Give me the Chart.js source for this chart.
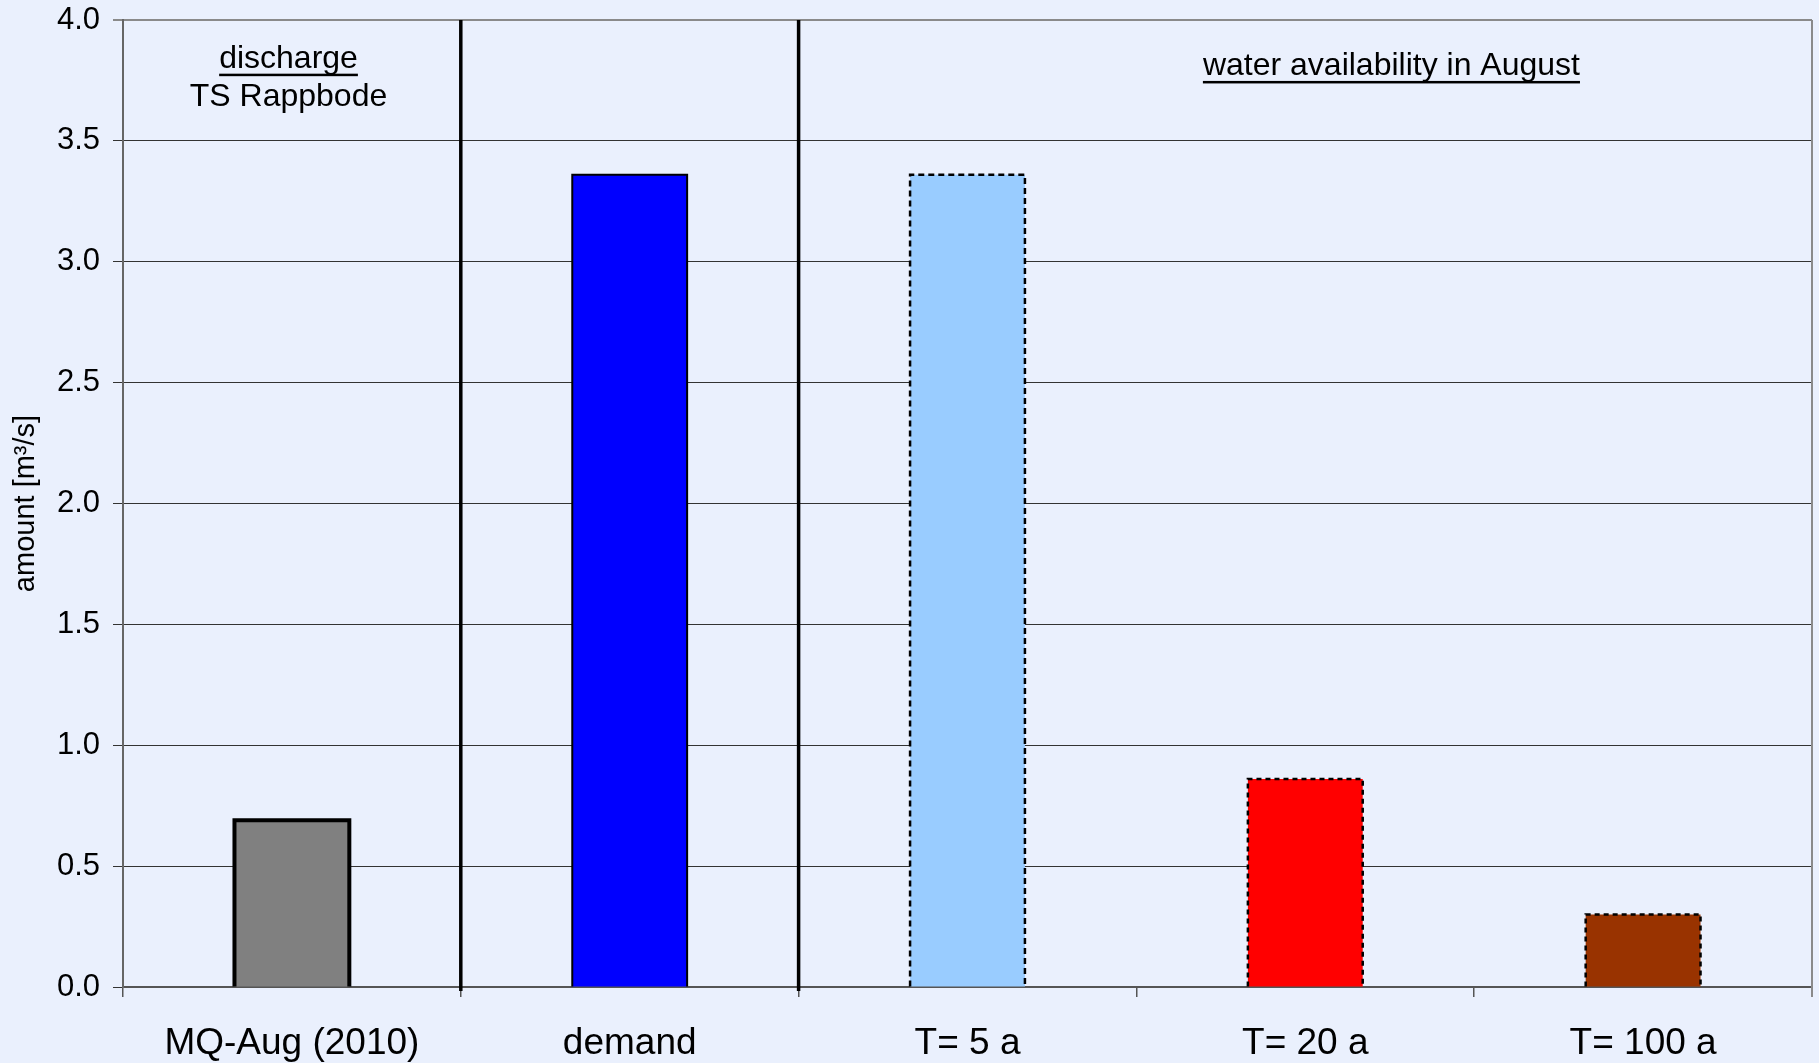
<!DOCTYPE html>
<html>
<head>
<meta charset="utf-8">
<script src="https://cdn.jsdelivr.net/npm/chart.js@4.4.1/dist/chart.umd.min.js"></script>
<style>
  html, body { margin: 0; padding: 0; background: #EAF0FD; }
  #wrap { width: 1819px; height: 1063px; }
</style>
</head>
<body>
<div id="wrap"><canvas id="c" width="1819" height="1063"></canvas></div>
<script>
// ---- data ----
const categories = ["MQ-Aug (2010)", "demand", "T= 5 a", "T= 20 a", "T= 100 a"];
const amounts = [0.69, 3.36, 3.36, 0.86, 0.30];
const yTicks = [0, 0.5, 1.0, 1.5, 2.0, 2.5, 3.0, 3.5, 4.0];
const yAxisTitle = "amount [m\u00B3/s]";
const groupSeparators = [0.5, 1.5]; // category-index boundaries
const annotations = [
  { text: "discharge", x: -0.01, y: 3.84, underline: true },
  { text: "TS Rappbode", x: -0.01, y: 3.68, underline: false },
  { text: "water availability in August", x: 3.255, y: 3.81, underline: true }
];

// ---- styles ----
const barColors = ["#808080", "#0000FF", "#99CCFF", "#FF0000", "#993300"];
const barBorderWidths = [4, 2, 2.5, 2.5, 2.5];
const barDashes = [[], [], [6, 4], [5, 4], [5, 4]];
const FONT = "'Liberation Sans', Arial, sans-serif";

const overlay = {
  id: 'overlay',
  afterDatasetsDraw(chart) {
    const ctx = chart.ctx;
    const area = chart.chartArea;
    const xs = chart.scales.x, ys = chart.scales.y;
    const meta = chart.getDatasetMeta(0);
    meta.data.forEach((bar, i) => {
      const p = bar.getProps(['x', 'y', 'base', 'width'], true);
      const bw = barBorderWidths[i];
      const l = p.x - p.width / 2, r = p.x + p.width / 2;
      ctx.save();
      ctx.strokeStyle = '#000';
      ctx.lineWidth = bw;
      ctx.setLineDash(barDashes[i]);
      ctx.lineJoin = 'miter';
      ctx.beginPath();
      ctx.moveTo(l, p.base);
      ctx.lineTo(l, p.y);
      ctx.lineTo(r, p.y);
      ctx.lineTo(r, p.base);
      ctx.stroke();
      ctx.restore();
    });
    ctx.save();
    ctx.strokeStyle = '#8a8a8a';
    ctx.lineWidth = 2;
    ctx.beginPath();
    ctx.moveTo(area.right, area.top);
    ctx.lineTo(area.right, area.bottom + 10);
    ctx.stroke();
    ctx.strokeStyle = '#000';
    ctx.lineWidth = 3.5;
    groupSeparators.forEach(v => {
      const x = (xs.getPixelForValue(Math.floor(v)) + xs.getPixelForValue(Math.ceil(v))) / 2;
      ctx.beginPath();
      ctx.moveTo(x, area.top);
      ctx.lineTo(x, area.bottom + 4);
      ctx.stroke();
    });
    ctx.fillStyle = '#000';
    ctx.font = "32px " + FONT;
    ctx.textAlign = 'center';
    ctx.textBaseline = 'middle';
    annotations.forEach(a => {
      const x = xs.getPixelForValue(a.x);
      const y = ys.getPixelForValue(a.y);
      ctx.fillText(a.text, x, y);
      if (a.underline) {
        const w = ctx.measureText(a.text).width;
        ctx.fillRect(x - w / 2, y + 15, w, 2.5);
      }
    });
    ctx.restore();
  }
};

new Chart(document.getElementById('c'), {
  type: 'bar',
  data: {
    labels: categories,
    datasets: [{
      data: amounts,
      backgroundColor: barColors,
      borderWidth: 0,
      barPercentage: 0.34,
      categoryPercentage: 1.0
    }]
  },
  options: {
    responsive: false,
    animation: false,
    devicePixelRatio: 1,
    layout: { padding: { top: 20, right: 7, left: 0, bottom: 0 } },
    plugins: { legend: { display: false }, tooltip: { enabled: false } },
    scales: {
      x: {
        afterFit(s) { s.height = 76; s.paddingLeft = 0; s.paddingRight = 0; },
        grid: {
          offset: true,
          drawOnChartArea: false,
          color: '#555',
          lineWidth: 1.5,
          tickLength: 10
        },
        border: { color: '#555', width: 2 },
        ticks: { color: '#000', font: { family: FONT, size: 37 }, padding: 25 }
      },
      y: {
        min: 0, max: 4,
        afterFit(s) { s.width = 123; s.paddingTop = 0; s.paddingBottom = 0; },
        afterBuildTicks(s) { s.ticks = yTicks.map(v => ({ value: v })); },
        grid: {
          color: ctx => (ctx.tick && ctx.tick.value === 4 ? '#8a8a8a' : '#333'),
          lineWidth: ctx => (ctx.tick && ctx.tick.value === 4 ? 2 : 1),
          tickLength: 10
        },
        border: { color: '#666', width: 2 },
        ticks: {
          color: '#000',
          font: { family: FONT, size: 31 },
          padding: 13,
          callback: v => Number(v).toFixed(1)
        },
        title: {
          display: true,
          text: yAxisTitle,
          color: '#000',
          font: { family: FONT, size: 29 },
          padding: { top: 9, bottom: 0 }
        }
      }
    }
  },
  plugins: [overlay]
});
</script>
</body>
</html>
